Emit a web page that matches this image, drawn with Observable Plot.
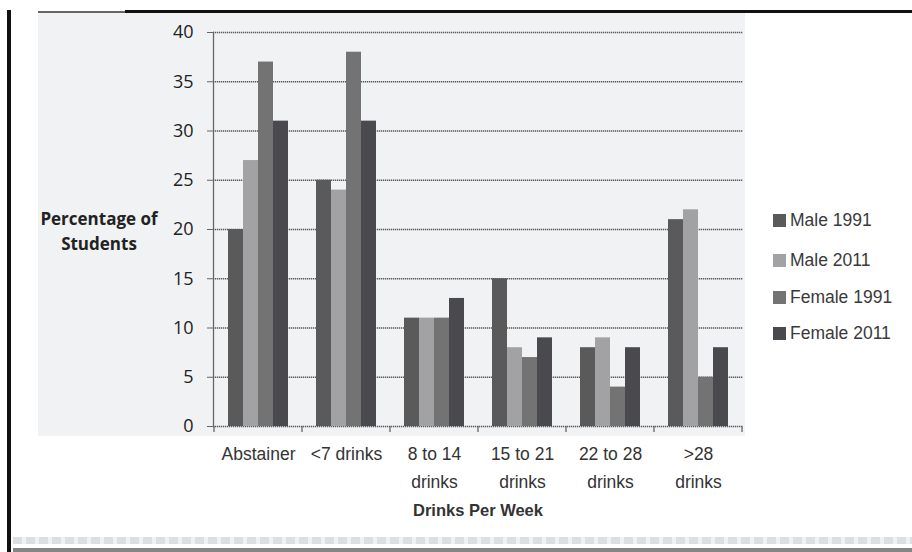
<!DOCTYPE html>
<html>
<head>
<meta charset="utf-8">
<script src="https://cdn.jsdelivr.net/npm/d3@7"></script>
<script src="https://cdn.jsdelivr.net/npm/@observablehq/plot@0.6"></script>
<style>
  html, body { margin: 0; padding: 0; background: #ffffff; }
  #wrap { position: relative; width: 912px; height: 552px; overflow: hidden; font-family: "Liberation Sans", Arial, sans-serif; }
  #panel { position: absolute; left: 38px; top: 13px; width: 707px; height: 423px; background: #f0f2f4; }
  #topGrey { position: absolute; left: 38px; top: 11px; width: 88px; height: 2px; background: #666; }
  #topBlack { position: absolute; left: 125px; top: 10px; width: 787px; height: 3px; background: #111; }
  #leftLine { position: absolute; left: 7px; top: 10px; width: 4px; height: 542px; background: #111; }
  #bottomDash { position: absolute; left: 13px; top: 537px; width: 899px; height: 7px;
    background: repeating-linear-gradient(90deg, #dcdfe2 0 9px, #eff1f3 9px 13px); }
  #bottomLine { position: absolute; left: 13px; top: 548px; width: 899px; height: 4px; background: #858585; }
  #back, #bars { position: absolute; left: 0; top: 0; }
  #ylabel { position: absolute; left: 14px; top: 206px; width: 170px; text-align: center;
    font-family: "Open Sans", sans-serif; font-weight: bold; font-size: 17px; line-height: 25px; color: #222; }
  #xtitle { position: absolute; left: 313px; top: 501px; width: 330px; text-align: center;
    font-weight: bold; font-size: 16.5px; color: #333; }
  #legend { position: absolute; left: 773px; top: 0; }
  .item { position: absolute; left: 0; white-space: nowrap; font-size: 17.5px; color: #3a3a3a; line-height: 20px; }
  .sw { display: inline-block; width: 13px; height: 13px; margin-right: 4px; vertical-align: -1px; }
</style>
</head>
<body>
<div id="wrap">
  <div id="panel"></div>
  <div id="topGrey"></div>
  <div id="topBlack"></div>
  <div id="leftLine"></div>
  <div id="bottomDash"></div>
  <div id="bottomLine"></div>
  <div id="back"></div>
  <div id="bars"></div>
  <div id="ylabel">Percentage of<br>Students</div>
  <div id="xtitle">Drinks Per Week</div>
  <div id="legend"></div>
</div>
<script>
// ---- data ----
const categories = ["Abstainer", "<7 drinks", "8 to 14 drinks", "15 to 21 drinks", "22 to 28 drinks", ">28 drinks"];
const tickLabels = ["Abstainer", "<7 drinks", "8 to 14\ndrinks", "15 to 21\ndrinks", "22 to 28\ndrinks", ">28\ndrinks"];
const series = ["Male 1991", "Male 2011", "Female 1991", "Female 2011"];
const male1991 = [20, 25, 11, 15, 8, 21];
const male2011 = [27, 24, 11, 8, 9, 22];
const female1991 = [37, 38, 11, 7, 4, 5];
const female2011 = [31, 31, 13, 9, 8, 8];
const yTicks = [0, 5, 10, 15, 20, 25, 30, 35, 40];
const colors = ["#5a5a5a", "#a2a2a4", "#737373", "#4a4a4e"];
const legendY = [220, 260, 297, 333];

const seriesValues = [male1991, male2011, female1991, female2011];
const data = categories.flatMap((c, i) =>
  series.map((s, j) => ({category: c, series: s, value: seriesValues[j][i]}))
);

const common = {
  width: 912,
  height: 552,
  marginLeft: 213,
  marginRight: 169,
  marginTop: 32,
  marginBottom: 126,
  style: {background: "transparent", overflow: "visible"}
};
const band = {domain: categories, paddingInner: 0.28, paddingOuter: 0.14, label: null};
const gridStyle = {stroke: "#5a5a5a", strokeWidth: 1.3, strokeDasharray: "1.3,0.7"};

// backdrop: grid, axes and category labels
const back = Plot.plot({
  ...common,
  x: band,
  y: {domain: [0, 40], ticks: yTicks, label: null},
  marks: [
    Plot.ruleY(yTicks, gridStyle),
    Plot.frame({anchor: "left", ...gridStyle, stroke: "#666"}),
    Plot.axisY({
      ticks: yTicks, tickSize: 6, tickPadding: 14,
      fontSize: 18, fontFamily: "Open Sans", fill: "#222", stroke: "#666", label: null
    }),
    Plot.axisX({
      tickSize: 0, tickPadding: 14, lineHeight: 1.58,
      fontSize: 17.5, fontFamily: "Liberation Sans", fill: "#333", label: null,
      tickFormat: d => tickLabels[categories.indexOf(d)]
    })
  ]
});
document.getElementById("back").appendChild(back);

// category boundary tick marks, positioned by the x band scale
const xs = back.scale("x");
const ys = back.scale("y");
const step = xs.step ?? ((xs.range[1] - xs.range[0]) / categories.length);
const bw = xs.bandwidth ?? step * 0.72;
const gap = (step - bw) / 2;
const bounds = categories.map(c => xs.apply(c) - gap);
bounds.push(xs.apply(categories[categories.length - 1]) + bw + gap);
const y0 = ys.apply(0);
d3.select(back).append("g")
  .attr("stroke", "#666").attr("stroke-width", 1.3)
  .selectAll("line").data(bounds).join("line")
  .attr("x1", d => d).attr("x2", d => d)
  .attr("y1", y0).attr("y2", y0 + 6);

// bars: faceted by category, one band per series
const bars = Plot.plot({
  ...common,
  fx: {...band, axis: null},
  x: {domain: series, padding: 0, axis: null},
  y: {domain: [0, 40], axis: null},
  color: {domain: series, range: colors},
  marks: [
    Plot.barY(data, {fx: "category", x: "series", y: "value", fill: "series"})
  ]
});
document.getElementById("bars").appendChild(bars);

// legend
const color = bars.scale("color");
const legend = d3.select("#legend");
color.domain.forEach((s, i) => {
  const item = legend.append("div").attr("class", "item").style("top", (legendY[i] - 10) + "px");
  item.append("span").attr("class", "sw").style("background", color.range[i]);
  item.append("span").text(s);
});
</script>
</body>
</html>
